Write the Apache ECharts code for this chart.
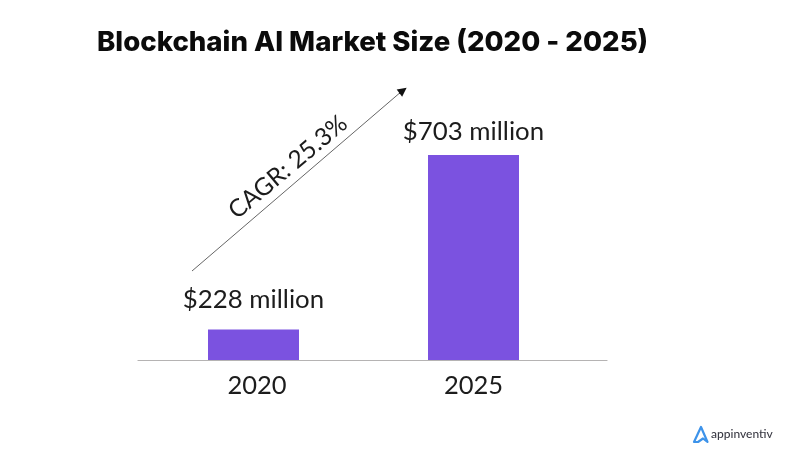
<!DOCTYPE html>
<html><head><meta charset="utf-8">
<style>html,body{margin:0;padding:0;background:#fff}#c{width:798px;height:467px}</style>
<script src="https://cdn.jsdelivr.net/npm/echarts@6/dist/echarts.min.js"></script>
</head><body><div id="c"></div>
<script>
const categories = ['2020', '2025'];
// The reference bars are not drawn to the scale of their labels; heights are read off the picture.
const barHeights = [105, 703];
const barLabels = ['$228 million', '$703 million'];
const titleText = 'Blockchain AI Market Size (2020 - 2025)';
const cagrText = 'CAGR: 25.3%';
const font = 'Lato';
const labelGaps = [17, 10];
const chart = echarts.init(document.getElementById('c'), null, {renderer:'canvas'});
chart.setOption({
  animation:false,
  backgroundColor:'#ffffff',
  title:{text:titleText,left:92,top:24,textStyle:{fontFamily:'Inter',fontWeight:800,fontSize:27.6,color:'#0b0b0b'}},
  grid:[
    {left:143.5,width:440,top:155,height:205},
    {left:138,width:469,top:155,height:205}
  ],
  xAxis:[
    {type:'category',gridIndex:0,
     data:[{value:categories[0],textStyle:{padding:[0,0,0,7]}},categories[1]],
     axisTick:{show:false},axisLine:{show:false},
     axisLabel:{fontFamily:font,fontSize:25.5,color:'#1c1c1c',margin:13}},
    {type:'value',gridIndex:1,min:0,max:1,splitLine:{show:false},axisTick:{show:false},axisLabel:{show:false},
     axisLine:{show:true,onZero:false,lineStyle:{color:'#b5b3b3',width:1.2}}}
  ],
  yAxis:[
    {type:'value',gridIndex:0,min:0,max:703,show:false,splitLine:{show:false}},
    {type:'value',gridIndex:1,min:0,max:1,show:false,splitLine:{show:false}}
  ],
  series:[{
    type:'bar',xAxisIndex:0,yAxisIndex:0,
    data:barHeights.map((v,i)=>({value:v,label:{distance:labelGaps[i]}})),
    barWidth:91,
    itemStyle:{color:'#7b52e0'},
    label:{show:true,position:'top',fontFamily:font,fontSize:25.8,color:'#1c1c1c',
      formatter:p=>barLabels[p.dataIndex]},
    markLine:{silent:true,animation:false,symbol:'none',
      lineStyle:{color:'#666666',width:1,type:'solid'},label:{show:false},
      emphasis:{disabled:true},
      data:[
        [{x:192,y:271},{x:402,y:91}],
        [{x:399,y:93.5,symbol:'none',lineStyle:{color:'#111111',width:1}},
         {x:403,y:90.5,symbol:'triangle',symbolSize:9,lineStyle:{color:'#111111',width:1}}]
      ]}
  }],
  graphic:[
    {type:'text',x:288,y:167,rotation:40*Math.PI/180,
     style:{text:cagrText,fontFamily:font,fontSize:24.5,fill:'#1c1c1c',align:'center',verticalAlign:'middle'}},
    {type:'polygon',shape:{points:[[701,427],[707.5,442],[703,438.5],[698,442],[694,442]]},style:{fill:'none',stroke:'#3d93ea',lineWidth:2.2,lineJoin:'round'}},
    {type:'text',x:711,y:434.5,style:{text:'appinventiv',fontFamily:font,fontSize:12,fontWeight:500,fill:'#3a3a44',align:'left',verticalAlign:'middle'}}
  ]
});
</script></body></html>
